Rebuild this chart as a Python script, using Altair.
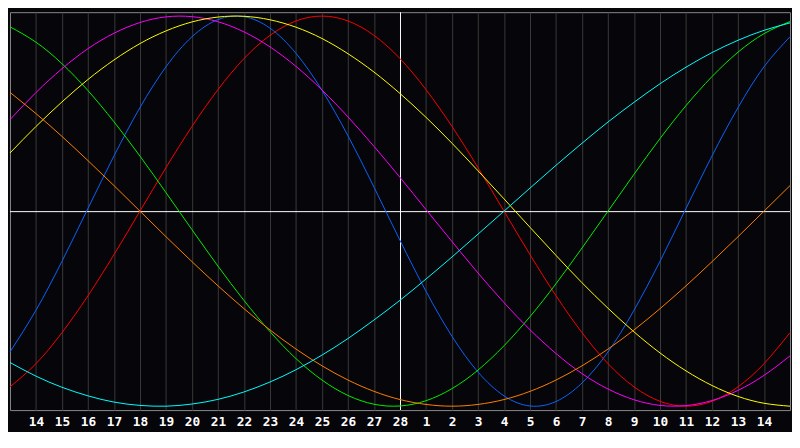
import altair as alt
import pandas as pd

# day index 0..30 (0 = the 13th of the first month, 30 = the 15th of the next)
t = list(range(31))
day_labels = ["14", "15", "16", "17", "18", "19", "20", "21", "22", "23", "24", "25", "26", "27", "28",
              "1", "2", "3", "4", "5", "6", "7", "8", "9", "10", "11", "12", "13", "14"]
today_index = [15]

series_names = ["Physical", "Emotional", "Intellectual", "Intuitive", "Aesthetic", "Awareness", "Spiritual"]
series_colors = ["#0a64ff", "#ff0000", "#00f000", "#ff00ff", "#ffff00", "#ff8000", "#00ffff"]

physical = [-0.722, -0.508, -0.257, 0.014, 0.283, 0.531, 0.740, 0.894, 0.982, 0.997, 0.938,
            0.809, 0.620, 0.386, 0.123, -0.150, -0.411, -0.642, -0.825, -0.947, -0.999,
            -0.976, -0.881, -0.722, -0.508, -0.257, 0.014, 0.283, 0.531, 0.740, 0.894]
emotional = [-0.901, -0.782, -0.623, -0.434, -0.223, 0.0, 0.223, 0.434, 0.623, 0.782, 0.901,
             0.975, 1.0, 0.975, 0.901, 0.782, 0.623, 0.434, 0.223, 0.0, -0.223,
             -0.434, -0.623, -0.782, -0.901, -0.975, -1.0, -0.975, -0.901, -0.782, -0.623]
intellectual = [0.945, 0.866, 0.756, 0.618, 0.458, 0.282, 0.095, -0.095, -0.282, -0.458, -0.618,
                -0.756, -0.866, -0.945, -0.990, -0.999, -0.972, -0.910, -0.815, -0.690, -0.541,
                -0.372, -0.189, 0.0, 0.189, 0.372, 0.541, 0.690, 0.815, 0.910, 0.972]
intuitive = [0.469, 0.608, 0.730, 0.833, 0.912, 0.967, 0.996, 0.997, 0.971, 0.919, 0.842,
             0.742, 0.621, 0.483, 0.332, 0.173, 0.008, -0.156, -0.317, -0.469, -0.608,
             -0.730, -0.833, -0.912, -0.967, -0.996, -0.997, -0.971, -0.919, -0.842, -0.742]
aesthetic = [0.298, 0.434, 0.560, 0.675, 0.775, 0.859, 0.924, 0.970, 0.995, 0.999, 0.981,
             0.943, 0.885, 0.807, 0.713, 0.603, 0.481, 0.348, 0.207, 0.063, -0.083,
             -0.227, -0.367, -0.498, -0.619, -0.727, -0.819, -0.894, -0.950, -0.985, -1.0]
awareness = [0.609, 0.5, 0.383, 0.259, 0.131, 0.0, -0.131, -0.259, -0.383, -0.5, -0.609,
             -0.707, -0.793, -0.866, -0.924, -0.966, -0.991, -1.0, -0.991, -0.966, -0.924,
             -0.866, -0.793, -0.707, -0.609, -0.5, -0.383, -0.259, -0.131, 0.0, 0.131]
spiritual = [-0.776, -0.846, -0.903, -0.947, -0.979, -0.996, -1.0, -0.989, -0.965, -0.927, -0.876,
             -0.813, -0.738, -0.653, -0.558, -0.457, -0.348, -0.235, -0.118, 0.0, 0.118,
             0.235, 0.348, 0.457, 0.558, 0.653, 0.738, 0.813, 0.876, 0.927, 0.965]

all_series = [physical, emotional, intellectual, intuitive, aesthetic, awareness, spiritual]

rows = []
for name, vals in zip(series_names, all_series):
    for ti, v in zip(t, vals):
        rows.append({"t": ti, "value": v, "cycle": name})
df = pd.DataFrame(rows)

BG = "#060509"

label_array = "[" + ",".join("'" + s + "'" for s in day_labels) + "]"
xscale = alt.Scale(domain=[0, 30], nice=False, zero=False)
yscale = alt.Scale(domain=[-1.02, 1.02], nice=False, zero=False)
xaxis = alt.Axis(
    values=list(range(1, 30)),
    labelExpr=label_array + "[datum.value - 1]",
    title=None,
    grid=True,
    gridColor="#3a3a3a",
    gridWidth=1,
    ticks=False,
    domain=False,
    labelColor="#ffffff",
    labelFont="DejaVu Sans Mono",
    labelFontWeight="bold",
    labelFontSize=13,
    labelPadding=6,
    labelAngle=0,
    labelOverlap=False,
)

vrule = alt.Chart(pd.DataFrame({"t": today_index})).mark_rule(
    color="#ffffff", strokeWidth=1, xOffset=0.5
).encode(
    x=alt.X("t:Q", scale=xscale, axis=xaxis)
)
hrule = alt.Chart(pd.DataFrame({"v": [0]})).mark_rule(
    color="#ffffff", strokeWidth=1, yOffset=0.5
).encode(
    y=alt.Y("v:Q", scale=yscale, axis=None)
)
lines = alt.Chart(df).mark_line(strokeWidth=1, interpolate="natural").encode(
    x=alt.X("t:Q", scale=xscale, axis=xaxis),
    y=alt.Y("value:Q", scale=yscale, axis=None),
    color=alt.Color("cycle:N", scale=alt.Scale(domain=series_names, range=series_colors), legend=None),
    detail="cycle:N",
)

chart = (
    alt.layer(vrule, hrule, lines)
    .properties(width=792, height=404, padding=0, background=BG)
    .configure_view(fill=BG, stroke="#8a8a8a", strokeWidth=1)
)

chart.save("out.html", embed_options={"renderer": "svg", "actions": False})
